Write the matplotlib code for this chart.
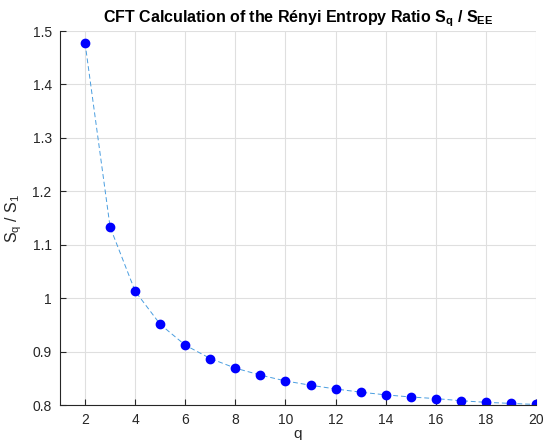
import matplotlib.pyplot as plt

plt.rcParams['font.family'] = ['Liberation Sans', 'DejaVu Sans']
plt.rcParams['mathtext.fontset'] = 'custom'
plt.rcParams['mathtext.rm'] = 'Liberation Sans'

# Renyi entropy ratio
q = [2, 3, 4, 5, 6, 7, 8, 9, 10, 11, 12, 13, 14, 15, 16, 17, 18, 19, 20]
ratio = [1.4775, 1.133, 1.013, 0.951, 0.912, 0.887, 0.869, 0.856, 0.845,
         0.837, 0.830, 0.824, 0.819, 0.815, 0.812, 0.808, 0.805, 0.803, 0.801]

fig = plt.figure(figsize=(5.44, 4.40), dpi=100)
ax = fig.add_axes([60/544, 1 - 405/440, 476/544, 374/440])

ax.plot(q, ratio, linestyle=(0, (5, 3)), color='#4a9ee0', linewidth=0.7)
ax.plot(q, ratio, 'o', color='#0000ff', markersize=6, linestyle='none')

ax.set_xlim(1, 20)
ax.set_ylim(0.8, 1.5)
ax.set_xticks(range(2, 21, 2))
ax.set_yticks([0.8, 0.9, 1.0, 1.1, 1.2, 1.3, 1.4, 1.5])
ax.set_yticklabels(['0.8', '0.9', '1', '1.1', '1.2', '1.3', '1.4', '1.5'])
ax.grid(True, color='#dfdfdf', linewidth=0.8)
ax.set_axisbelow(True)
for s in ['top', 'right']:
    ax.spines[s].set_visible(False)
for s in ['left', 'bottom']:
    ax.spines[s].set_color('#262626')
    ax.spines[s].set_linewidth(0.8)
ax.tick_params(direction='in', length=4, colors='#262626', labelsize=10, pad=6)

ax.set_title(r'CFT Calculation of the Rényi Entropy Ratio S$_{\mathregular{q}}$ / S$_{\mathregular{EE}}$',
             fontsize=11.5, fontweight='bold', pad=6)
ax.set_xlabel('q', fontsize=11, color='#262626', labelpad=0)
ax.set_ylabel(r'S$_{\mathregular{q}}$ / S$_{\mathregular{1}}$', fontsize=11.5, color='#262626', labelpad=6)

fig.savefig('out.png', dpi=100)
